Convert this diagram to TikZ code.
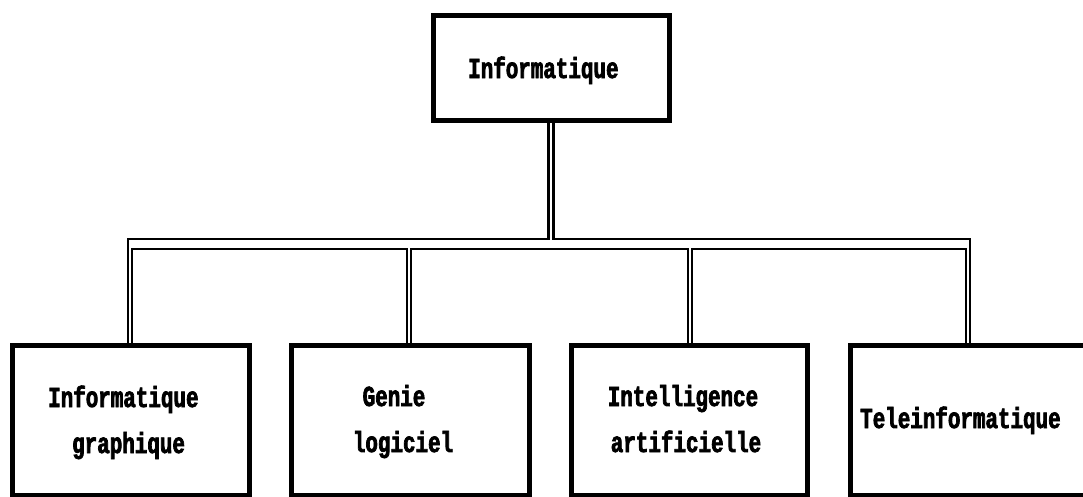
\documentclass[tikz,border=0pt]{standalone}
\usepackage{fontspec}
\newfontfamily\lblfont{Liberation Mono Bold}[FakeStretch=0.72,FakeBold=2.5]
\begin{document}
\begin{tikzpicture}[x=1pt,y=-1pt,
  boxstyle/.style={draw=black,line width=5pt,rectangle,inner sep=0pt},
  lbl/.style={inner sep=0pt,font=\lblfont\fontsize{29}{29}\selectfont},
  conn/.style={draw=black,line width=2.6pt,line join=miter}]
\useasboundingbox (0,0) rectangle (1083,496);
\clip (0,0) rectangle (1083,496);
\fill[white] (0,0) rectangle (1083,496);
% boxes
\node[boxstyle,minimum width=236.5pt,minimum height=105.5pt] (top) at (551.25,67.75) {};
\node[boxstyle,minimum width=236.5pt,minimum height=149.5pt] (b1) at (130.75,420.25) {};
\node[boxstyle,minimum width=238pt,minimum height=149.5pt] (b2) at (410,420.25) {};
\node[boxstyle,minimum width=235.5pt,minimum height=149.5pt] (b3) at (689.25,420.25) {};
\node[boxstyle,minimum width=245pt,minimum height=149.5pt] (b4) at (972.5,420.25) {};
% labels
\node[lbl,anchor=base west] (tl) at (468,78) {Informatique};
\node[lbl,anchor=base west] (l1a) at (48,407) {Informatique};
\node[lbl,anchor=base west] (l1b) at (72,453) {graphique};
\node[lbl,anchor=base] (l2a) at (394,406) {Genie};
\node[lbl,anchor=base] (l2b) at (403,452) {logiciel};
\node[lbl,anchor=base] (l3a) at (683,406) {Intelligence};
\node[lbl,anchor=base] (l3b) at (686,452) {artificielle};
\node[lbl,anchor=base west] (l4) at (860,428) {Teleinformatique};
% bus coordinates
\coordinate (tL) at ([xshift=-3pt]top.south);
\coordinate (tR) at ([xshift=2pt]top.south);
% outer lines
\draw[conn] (tL) -- (tL |- 0,239) -- (128,239) -- (128,343.5);
\draw[conn] (tR) -- (tR |- 0,239) -- (970,239) -- (970,343.5);
% inner lines
\draw[conn] (132,343.5) -- (132,249) -- (407,249) -- (407,343.5);
\draw[conn] (411,343.5) -- (411,249) -- (688,249) -- (688,343.5);
\draw[conn] (692,343.5) -- (692,249) -- (966,249) -- (966,343.5);
\end{tikzpicture}
\end{document}
